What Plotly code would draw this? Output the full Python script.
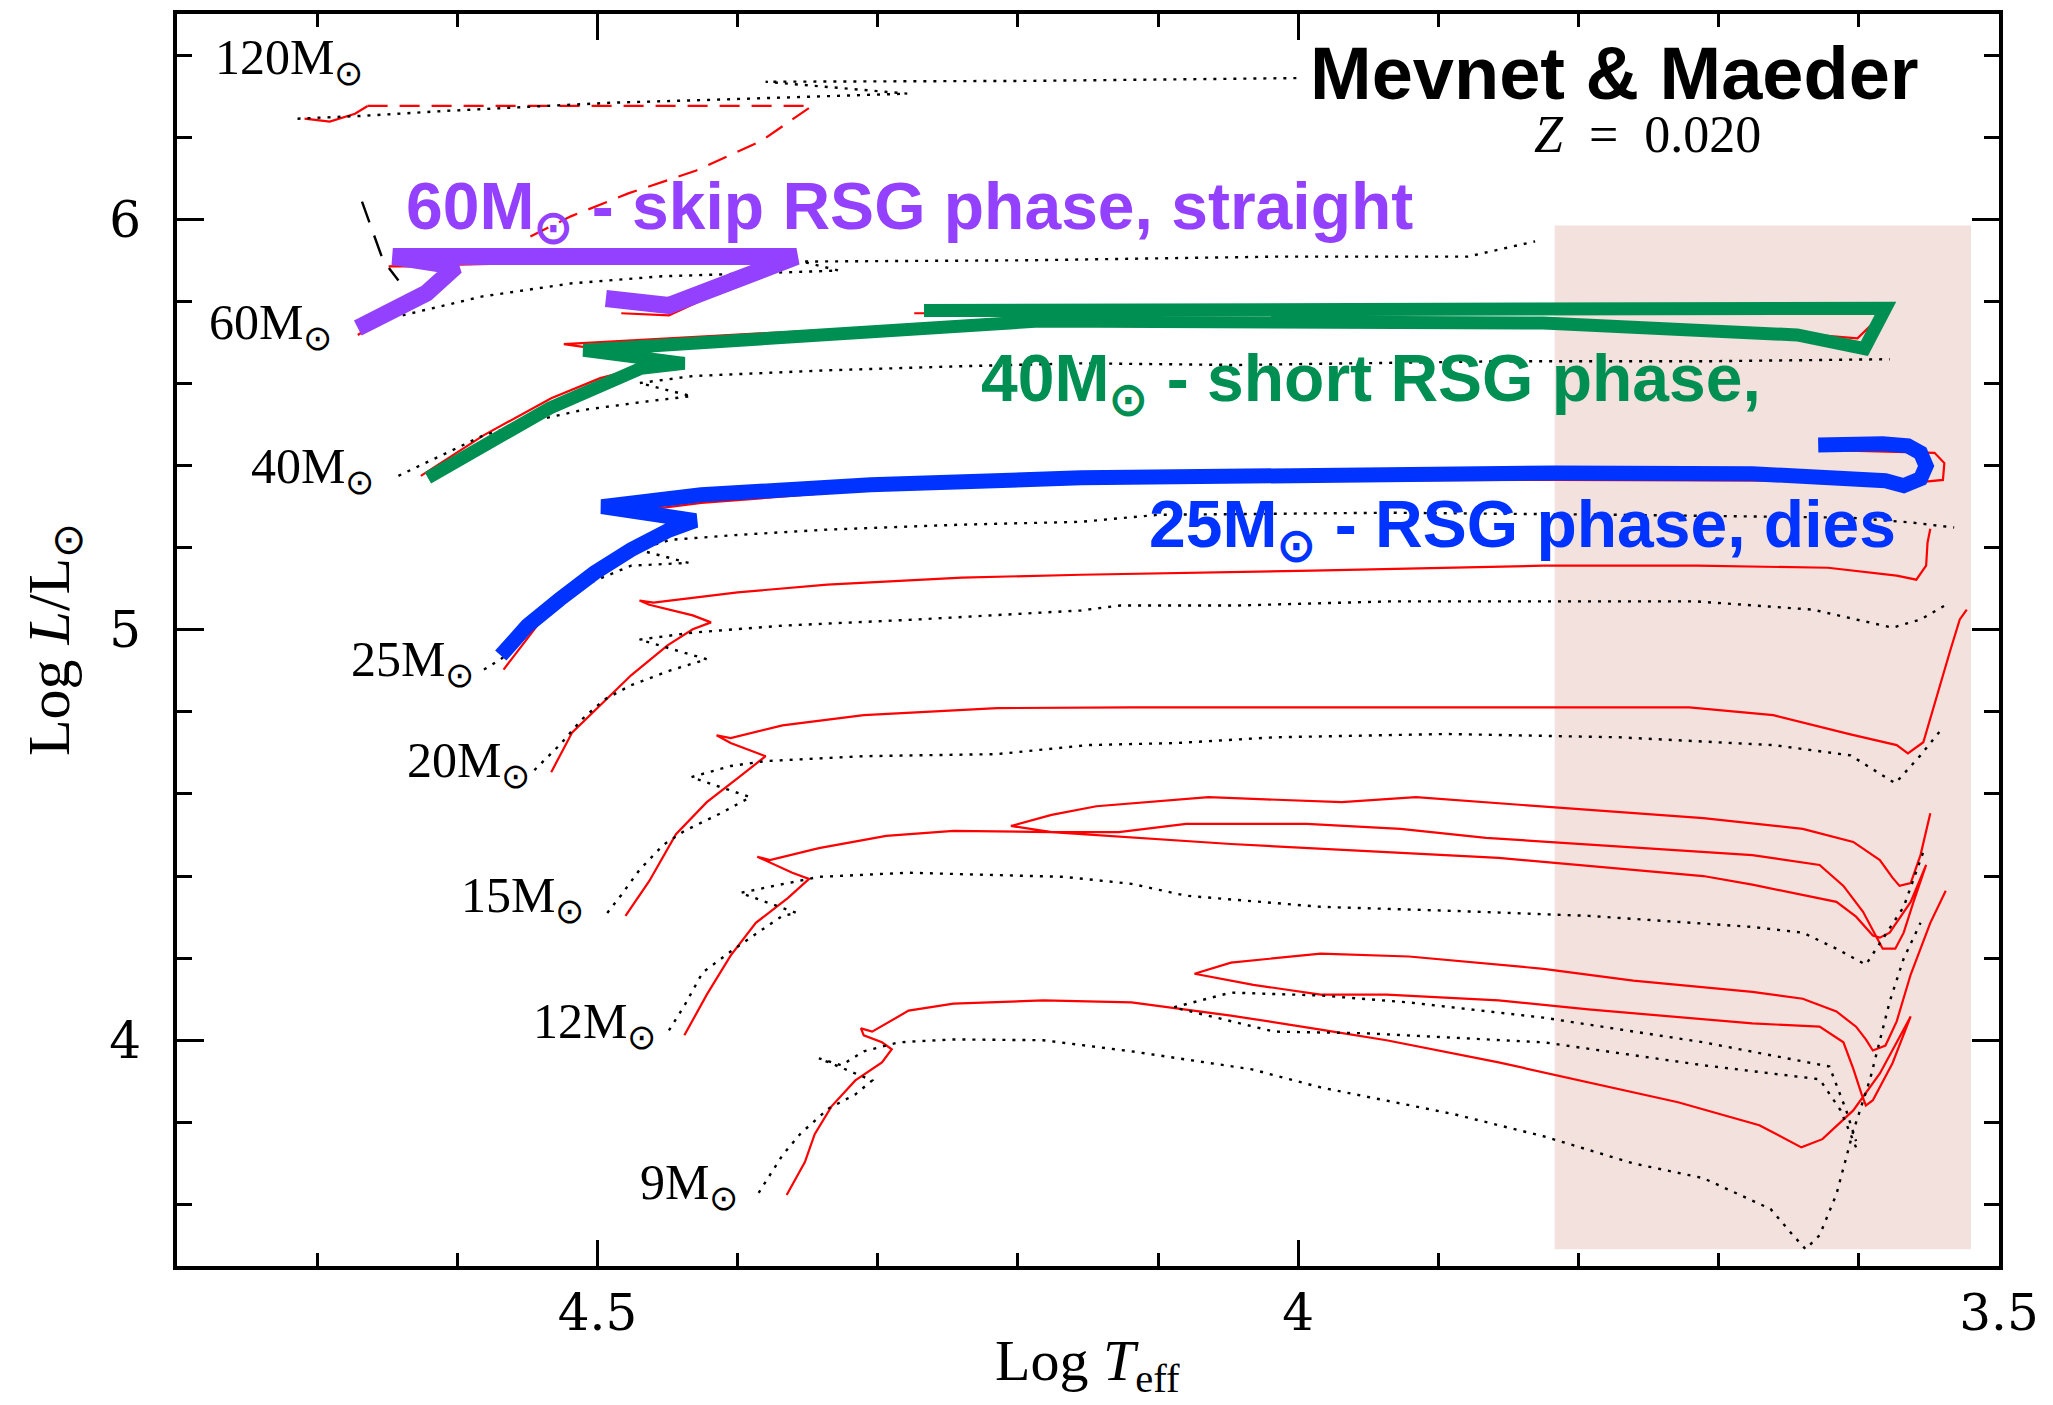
import plotly.graph_objects as go

# ---------------- data (log Teff, log L/Lsun) ----------------
# 120 Msun
red120_x = [4.709, 4.691, 4.673, 4.664]
red120_y = [6.245, 6.238, 6.257, 6.276]
red120d_x = [4.664, 4.347, 4.383, 4.430, 4.478, 4.519, 4.552]
red120d_y = [6.276, 6.276, 6.191, 6.118, 6.063, 6.007, 5.951]
dot120_x = [4.714, 4.667, 4.608, 4.548, 4.489, 4.418, 4.347, 4.279, 4.380, 4.193, 3.997]
dot120_y = [6.245, 6.252, 6.264, 6.274, 6.284, 6.291, 6.299, 6.306, 6.335, 6.337, 6.344]

# 60 Msun
red60_x = [4.671, 4.641, 4.619, 4.601, 4.649, 4.358, 4.449, 4.483]
red60_y = [5.718, 5.783, 5.832, 5.885, 5.885, 5.909, 5.766, 5.771]
dot60_x = [4.639, 4.582, 4.518, 4.454, 4.390, 4.328, 4.354, 4.193, 4.015, 3.879, 3.831]
dot60_y = [5.766, 5.812, 5.844, 5.861, 5.868, 5.875, 5.897, 5.900, 5.909, 5.909, 5.946]
dash60_x = [4.668, 4.653, 4.642]
dash60_y = [6.043, 5.900, 5.851]

# 40 Msun
red40_x = [4.626, 4.581, 4.533, 4.498, 4.462, 4.438, 4.524, 4.384, 4.185, 3.825, 3.644, 3.601, 3.581, 4.274]
red40_y = [5.375, 5.474, 5.564, 5.613, 5.645, 5.654, 5.696, 5.722, 5.756, 5.752, 5.722, 5.710, 5.776, 5.771]
dot40_x = [4.642, 4.613, 4.581, 4.543, 4.511, 4.463, 4.433, 4.470, 4.432, 4.336, 4.240, 4.155, 4.044, 3.854, 3.711, 3.578]
dot40_y = [5.375, 5.423, 5.474, 5.511, 5.535, 5.557, 5.569, 5.601, 5.618, 5.632, 5.642, 5.649, 5.645, 5.654, 5.654, 5.659]

# 25 Msun
red25_x = [4.567, 4.555, 4.543, 4.528, 4.511, 4.494, 4.476, 4.458, 4.440, 4.465, 4.426, 4.305, 4.155, 3.990, 3.817, 3.640, 3.576, 3.540, 3.539, 3.546, 3.628]
red25_y = [4.903, 4.957, 5.010, 5.066, 5.115, 5.156, 5.188, 5.217, 5.246, 5.292, 5.309, 5.341, 5.358, 5.363, 5.365, 5.363, 5.353, 5.365, 5.406, 5.431, 5.438]
dot25_x = [4.581, 4.569, 4.555, 4.543, 4.527, 4.505, 4.476, 4.435, 4.471, 4.448, 4.400, 4.336, 4.240, 4.155, 4.100, 3.935, 3.771, 3.606, 3.562, 3.532]
dot25_y = [4.903, 4.928, 4.969, 5.018, 5.066, 5.115, 5.156, 5.163, 5.195, 5.219, 5.231, 5.244, 5.256, 5.263, 5.280, 5.285, 5.280, 5.273, 5.261, 5.249]

# 20 Msun
red20_x = [4.533, 4.518, 4.498, 4.476, 4.450, 4.432, 4.419, 4.432, 4.463, 4.470, 4.460, 4.400, 4.336, 4.240, 4.155, 3.990, 3.825, 3.716, 3.622, 3.573, 3.559, 3.552, 3.551, 3.549]
red20_y = [4.653, 4.750, 4.816, 4.889, 4.962, 5.001, 5.018, 5.035, 5.061, 5.071, 5.066, 5.091, 5.110, 5.127, 5.134, 5.144, 5.156, 5.156, 5.151, 5.132, 5.122, 5.156, 5.212, 5.246]
dot20_x = [4.545, 4.527, 4.511, 4.495, 4.476, 4.448, 4.422, 4.470, 4.432, 4.368, 4.272, 4.155, 4.127, 4.044, 3.935, 3.716, 3.633, 3.576, 3.556, 3.535]
dot20_y = [4.658, 4.719, 4.782, 4.830, 4.865, 4.901, 4.928, 4.976, 4.993, 5.010, 5.025, 5.047, 5.059, 5.059, 5.069, 5.069, 5.049, 5.005, 5.025, 5.066]

# 15 Msun
red15_x = [4.480, 4.463, 4.444, 4.422, 4.399, 4.380, 4.405, 4.415, 4.405, 4.368, 4.310, 4.215, 4.119, 3.926, 3.721, 3.661, 3.606, 3.573, 3.565, 3.554, 3.545, 3.535, 3.528, 3.523]
red15_y = [4.303, 4.388, 4.502, 4.580, 4.641, 4.692, 4.724, 4.743, 4.736, 4.767, 4.792, 4.809, 4.811, 4.811, 4.811, 4.792, 4.745, 4.719, 4.699, 4.726, 4.833, 4.947, 5.025, 5.049]
dot15_x = [4.493, 4.483, 4.470, 4.453, 4.438, 4.412, 4.391, 4.433, 4.405, 4.380, 4.310, 4.215, 4.150, 4.087, 4.017, 3.894, 3.771, 3.661, 3.606, 3.574, 3.556, 3.540]
dot15_y = [4.310, 4.354, 4.415, 4.476, 4.510, 4.553, 4.592, 4.641, 4.668, 4.680, 4.692, 4.697, 4.719, 4.724, 4.738, 4.746, 4.738, 4.719, 4.694, 4.626, 4.694, 4.762]

# 12 Msun
red12_x = [4.438, 4.422, 4.405, 4.387, 4.364, 4.349, 4.361, 4.386, 4.377, 4.342, 4.294, 4.246, 4.176, 4.048, 3.857, 3.711, 3.676, 3.616, 3.602, 3.590, 3.585, 3.578, 3.563, 3.552,
           3.561, 3.568, 3.574, 3.583, 3.588, 3.597, 3.611, 3.628, 3.676, 3.711, 3.866, 3.927, 3.994, 4.080, 4.128, 4.176, 4.205,
           4.176, 4.144, 4.064, 3.969, 3.916, 3.825, 3.711, 3.640, 3.604, 3.585, 3.576, 3.571, 3.563, 3.556, 3.549]
red12_y = [4.012, 4.111, 4.206, 4.286, 4.347, 4.393, 4.408, 4.447, 4.439, 4.468, 4.498, 4.510, 4.507, 4.478, 4.444, 4.400, 4.379, 4.337, 4.301, 4.255, 4.250, 4.262, 4.337, 4.427,
           4.337, 4.262, 4.223, 4.223, 4.255, 4.313, 4.376, 4.427, 4.451, 4.459, 4.493, 4.515, 4.527, 4.527, 4.507, 4.507, 4.522,
           4.549, 4.570, 4.592, 4.580, 4.592, 4.570, 4.541, 4.515, 4.483, 4.439, 4.396, 4.376, 4.383, 4.451, 4.553]
dot12_x = [4.449, 4.438, 4.425, 4.405, 4.387, 4.368, 4.358, 4.398, 4.374, 4.342, 4.278, 4.215, 4.167, 4.119, 4.080, 3.984, 3.889, 3.793, 3.676, 3.640, 3.616, 3.595, 3.585, 3.568, 3.554]
dot12_y = [4.024, 4.084, 4.165, 4.216, 4.259, 4.303, 4.310, 4.359, 4.376, 4.398, 4.408, 4.403, 4.398, 4.381, 4.352, 4.325, 4.315, 4.303, 4.276, 4.262, 4.223, 4.184, 4.235, 4.325, 4.459]

# 9 Msun
red9_x = [4.365, 4.352, 4.345, 4.333, 4.316, 4.297, 4.290, 4.297, 4.310, 4.312, 4.304, 4.278, 4.246, 4.182, 4.119, 4.048, 3.984, 3.937, 3.857, 3.793, 3.729, 3.671, 3.641, 3.626, 3.604, 3.585, 3.563,
          3.576, 3.590, 3.595, 3.598, 3.604, 3.611, 3.628, 3.676, 3.793, 3.857, 3.937, 3.984, 4.032, 4.074,
          4.048, 3.984, 3.921, 3.825, 3.761, 3.676, 3.640, 3.616, 3.602, 3.595, 3.590, 3.581, 3.573, 3.563, 3.549, 3.538]
red9_y = [3.623, 3.703, 3.771, 3.839, 3.902, 3.946, 3.978, 3.995, 4.012, 4.029, 4.021, 4.072, 4.089, 4.097, 4.092, 4.060, 4.026, 4.000, 3.946, 3.897, 3.849, 3.793, 3.739, 3.759, 3.829, 3.919, 4.058,
          3.944, 3.854, 3.841, 3.868, 3.931, 3.995, 4.033, 4.041, 4.075, 4.097, 4.111, 4.111, 4.135, 4.162,
          4.189, 4.211, 4.204, 4.174, 4.145, 4.118, 4.101, 4.070, 4.033, 4.002, 3.975, 3.987, 4.046, 4.160, 4.286, 4.364]
dot9_x = [4.385, 4.378, 4.368, 4.355, 4.335, 4.316, 4.304, 4.342, 4.326, 4.310, 4.285, 4.246, 4.182, 4.119, 4.033, 3.984, 3.889, 3.825, 3.761, 3.711, 3.663, 3.647, 3.638, 3.628, 3.616, 3.604, 3.592, 3.578, 3.568, 3.556]
dot9_y = [3.628, 3.666, 3.720, 3.773, 3.834, 3.868, 3.902, 3.956, 3.939, 3.973, 3.995, 4.002, 4.000, 3.973, 3.929, 3.885, 3.820, 3.766, 3.700, 3.664, 3.589, 3.525, 3.491, 3.525, 3.625, 3.778, 3.905, 4.094, 4.199, 4.286]
dot9loop_x = [3.602, 3.613, 3.628, 3.711, 3.825, 3.953, 4.017, 4.089, 4.048, 3.984, 3.921, 3.825, 3.711, 3.621, 3.609, 3.602]
dot9loop_y = [3.739, 3.829, 3.905, 3.939, 3.995, 4.017, 4.021, 4.080, 4.116, 4.109, 4.092, 4.055, 3.995, 3.936, 3.829, 3.754]

# highlighted tracks
purple_x = [4.671, 4.622, 4.601, 4.646, 4.358, 4.449, 4.494]
purple_y = [5.735, 5.820, 5.885, 5.909, 5.909, 5.790, 5.807]
green_x = [4.621, 4.534, 4.469, 4.438, 4.510, 4.185, 3.825, 3.644, 3.596, 3.581, 4.267]
green_y = [5.370, 5.540, 5.637, 5.649, 5.681, 5.752, 5.747, 5.718, 5.685, 5.783, 5.778]
blue_x = [4.569, 4.550, 4.527, 4.502, 4.476, 4.450, 4.430, 4.497, 4.426, 4.305, 4.155, 3.990, 3.817, 3.676, 3.606, 3.581, 3.568, 3.556, 3.552, 3.556, 3.565, 3.583, 3.629]
blue_y = [4.937, 5.010, 5.074, 5.139, 5.195, 5.241, 5.266, 5.300, 5.329, 5.353, 5.370, 5.377, 5.382, 5.380, 5.372, 5.363, 5.351, 5.368, 5.399, 5.431, 5.448, 5.453, 5.450]

# RSG region
rsg_x = [3.817, 3.520]
rsg_y = [3.491, 5.985]

# labels
mass_labels = ["120M", "60M", "40M", "25M", "20M", "15M", "12M", "9M"]
mass_lab_x = [4.666, 4.688, 4.658, 4.587, 4.547, 4.508, 4.457, 4.398]
mass_lab_y = [6.386, 5.739, 5.389, 4.918, 4.673, 4.344, 4.038, 3.645]

x_tickvals = [4.5, 4.0, 3.5]
x_ticktext = ["4.5", "4", "3.5"]
x_minor = [4.7, 4.6, 4.4, 4.3, 4.2, 4.1, 3.9, 3.8, 3.7, 3.6]
y_tickvals = [4, 5, 6]
y_ticktext = ["4", "5", "6"]
y_minor = [3.6, 3.8, 4.2, 4.4, 4.6, 4.8, 5.2, 5.4, 5.6, 5.8, 6.2, 6.4]

RED = "#FF0000"
PURPLE = "#9440FF"
GREEN = "#008F52"
BLUE = "#0033FF"

fig = go.Figure()


def add_line(x, y, color, width, dash="solid"):
    fig.add_trace(go.Scatter(x=x, y=y, mode="lines",
                             line=dict(color=color, width=width, dash=dash),
                             hoverinfo="skip", showlegend=False))


DOT = "3px,7px"
# red tracks
for xs, ys in [(red120_x, red120_y), (red60_x, red60_y), (red40_x, red40_y),
               (red25_x, red25_y), (red20_x, red20_y), (red15_x, red15_y),
               (red12_x, red12_y), (red9_x, red9_y)]:
    add_line(xs, ys, RED, 2.2)
add_line(red120d_x, red120d_y, RED, 2.2, "20px,12px")

# dotted tracks
for xs, ys in [(dot120_x, dot120_y), (dot60_x, dot60_y), (dot40_x, dot40_y),
               (dot25_x, dot25_y), (dot20_x, dot20_y), (dot15_x, dot15_y),
               (dot12_x, dot12_y), (dot9_x, dot9_y), (dot9loop_x, dot9loop_y)]:
    add_line(xs, ys, "black", 2.4, DOT)
add_line(dash60_x, dash60_y, "black", 2.4, "22px,14px")

# highlighted thick tracks
add_line(purple_x, purple_y, PURPLE, 17)
add_line(green_x, green_y, GREEN, 13)
add_line(blue_x, blue_y, BLUE, 15)

fig.add_shape(type="rect", x0=rsg_x[0], x1=rsg_x[1], y0=rsg_y[0], y1=rsg_y[1],
              xref="x", yref="y", layer="below", line=dict(width=0),
              fillcolor="#F2E1DD")

annotations = []
for lab, lx, ly in zip(mass_labels, mass_lab_x, mass_lab_y):
    annotations.append(dict(x=lx, y=ly, xref="x", yref="y", xanchor="right", yanchor="middle",
                            text=lab + "<sub>⊙</sub>", showarrow=False,
                            font=dict(family="Liberation Serif", size=50, color="black")))

annotations += [
    dict(x=3.774, y=6.356, xref="x", yref="y", xanchor="center", yanchor="middle",
         text="<b>Mevnet &amp; Maeder</b>", showarrow=False,
         font=dict(family="Liberation Sans", size=74, color="black")),
    dict(x=3.751, y=6.207, xref="x", yref="y", xanchor="center", yanchor="middle",
         text="<i>Z</i>\u00a0\u00a0=\u00a0\u00a00.020", showarrow=False,
         font=dict(family="Liberation Serif", size=52, color="black")),
    dict(x=4.638, y=6.020, xref="x", yref="y", xanchor="left", yanchor="middle",
         text="<b>60M<sub>⊙</sub> - skip RSG phase, straight</b>", showarrow=False,
         font=dict(family="Liberation Sans", size=66, color=PURPLE)),
    dict(x=4.228, y=5.601, xref="x", yref="y", xanchor="left", yanchor="middle",
         text="<b>40M<sub>⊙</sub> - short RSG phase,</b>", showarrow=False,
         font=dict(family="Liberation Sans", size=66, color=GREEN)),
    dict(x=4.108, y=5.246, xref="x", yref="y", xanchor="left", yanchor="middle",
         text="<b>25M<sub>⊙</sub> - RSG phase, dies</b>", showarrow=False,
         font=dict(family="Liberation Sans", size=66, color=BLUE)),
    dict(x=0.4995, y=-0.079, xref="paper", yref="paper", xanchor="center", yanchor="middle",
         text="Log <i>T</i><sub>eff</sub>", showarrow=False,
         font=dict(family="Liberation Serif", size=58, color="black")),
    dict(x=-0.0680, y=0.5, xref="paper", yref="paper", xanchor="center", yanchor="middle",
         text="Log <i>L</i>/L<sub>⊙</sub>", showarrow=False, textangle=-90,
         font=dict(family="Liberation Serif", size=60, color="black")),
]

fig.update_layout(
    width=2053, height=1405,
    margin=dict(l=177, r=54, t=10, b=139),
    plot_bgcolor="white", paper_bgcolor="white",
    showlegend=False,
    annotations=annotations,
    xaxis=dict(range=[4.8, 3.5], showgrid=False, zeroline=False,
               showline=True, linecolor="black", linewidth=4, mirror="allticks",
               ticks="inside", ticklen=26, tickwidth=3, tickcolor="black",
               tickmode="array", tickvals=x_tickvals, ticktext=x_ticktext,
               tickfont=dict(family="DejaVu Serif", size=50, color="black"),
               ticklabelstandoff=0,
               minor=dict(tickmode="array", tickvals=x_minor, ticks="inside",
                          ticklen=13, tickwidth=3, tickcolor="black", showgrid=False)),
    yaxis=dict(range=[3.45, 6.5], showgrid=False, zeroline=False,
               showline=True, linecolor="black", linewidth=4, mirror="allticks",
               ticks="inside", ticklen=27, tickwidth=3, tickcolor="black",
               tickmode="array", tickvals=y_tickvals, ticktext=y_ticktext,
               tickfont=dict(family="DejaVu Serif", size=50, color="black"),
               ticklabelstandoff=22,
               minor=dict(tickmode="array", tickvals=y_minor, ticks="inside",
                          ticklen=15, tickwidth=3, tickcolor="black", showgrid=False)),
)

fig.write_html("out.html")
